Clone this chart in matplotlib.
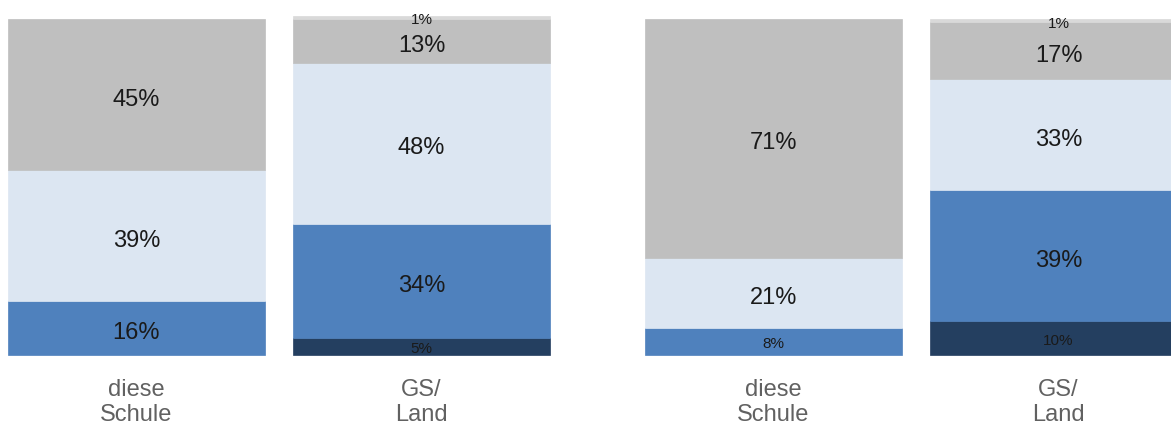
import matplotlib
matplotlib.use("Agg")
import matplotlib.pyplot as plt
import numpy as np

plt.rcParams['font.family'] = ['Liberation Sans', 'DejaVu Sans']

categories = ["diese\nSchule", "GS/\nLand"]
# segments from bottom to top
seg_colors = ["#243f60", "#4f81bd", "#dce6f2", "#bfbfbf", "#d9d9d9"]

panel1 = {
    "diese\nSchule": [0, 16, 39, 45, 0],
    "GS/\nLand": [5, 34, 48, 13, 1],
}
panel2 = {
    "diese\nSchule": [0, 8, 21, 71, 0],
    "GS/\nLand": [10, 39, 33, 17, 1],
}

W, H = 1171, 425
fig = plt.figure(figsize=(W / 100, H / 100), dpi=100)

bar_w_px, step_px = 257, 285
width = bar_w_px / step_px
ax_w_px = (1 + width) * step_px

BIG, SMALL = 17, 11


def label(ax, x, y, txt, size):
    cap = 0.716 * size  # cap height in points
    extra = 1.8 if size == BIG else 1.0
    ax.annotate(txt, (x, y), xytext=(0, -(cap / 2 + extra)),
                textcoords="offset points", ha="center", va="baseline",
                fontsize=size, color="#1a1a1a", annotation_clip=False)


def draw(ax, data):
    xs = np.arange(len(categories))
    for i, cat in enumerate(categories):
        vals = data[cat]
        bottom = 0
        for j, v in enumerate(vals):
            if v == 0:
                continue
            ax.bar(xs[i], v, width, bottom=bottom, color=seg_colors[j],
                   edgecolor=seg_colors[j], linewidth=0.5, clip_on=False)
            size = SMALL if (v <= 10) else BIG
            label(ax, xs[i], bottom + v / 2, f"{v}%", size)
            bottom += v
    ax.set_xlim(-width / 2, len(categories) - 1 + width / 2)
    ax.set_ylim(0, 100)
    ax.set_xticks(xs)
    ax.set_xticklabels(categories, fontsize=17, color="#616161",
                       linespacing=1.2)
    ax.tick_params(axis="x", length=0, pad=17)
    ax.set_yticks([])
    for s in ax.spines.values():
        s.set_visible(False)


bottom_px, top_px = 355, 19
ax1 = fig.add_axes([8 / W, (H - bottom_px) / H, ax_w_px / W, (bottom_px - top_px) / H])
ax2 = fig.add_axes([645 / W, (H - bottom_px) / H, ax_w_px / W, (bottom_px - top_px) / H])
draw(ax1, panel1)
draw(ax2, panel2)

fig.savefig("out.png", dpi=100)
